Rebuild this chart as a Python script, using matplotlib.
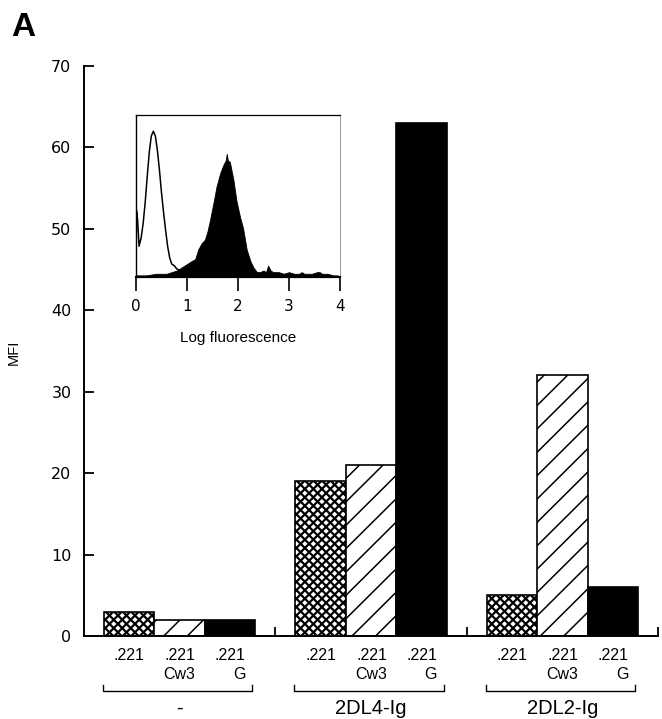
import numpy as np
import matplotlib
matplotlib.use("Agg")
import matplotlib.pyplot as plt
from matplotlib.collections import LineCollection
from matplotlib.transforms import blended_transform_factory

# --- data ---
groups = ["-", "2DL4-Ig", "2DL2-Ig"]
cells = [".221", ".221\nCw3", ".221\nG"]
mfi_221 = [3, 19, 5]
mfi_cw3 = [2, 21, 32]
mfi_g = [2, 63, 6]
y_ticks = [0, 10, 20, 30, 40, 50, 60, 70]

# inset histogram (percent of inset height)
open_x = [0, 0.01, 0.03, 0.06, 0.1, 0.14, 0.18, 0.22, 0.26, 0.3, 0.34, 0.38,
          0.42, 0.46, 0.5, 0.54, 0.58, 0.62, 0.66, 0.7, 0.75, 0.8, 0.86, 0.9]
open_y = [0, 41, 36, 19, 24, 33, 46, 62, 77, 87, 90, 87,
          78, 66, 52, 40, 29, 19, 12, 8, 7, 5, 4, 4]
fill_x = [0, 0.2, 0.4, 0.6, 0.7, 0.8, 0.9, 1.0, 1.1, 1.16, 1.22, 1.29, 1.35,
          1.40, 1.45, 1.52, 1.58, 1.65, 1.71, 1.76, 1.78, 1.8, 1.84, 1.91,
          1.97, 2.04, 2.10, 2.17, 2.24, 2.30, 2.37, 2.43, 2.5, 2.55, 2.59,
          2.64, 2.69, 2.8, 2.9, 3.0, 3.1, 3.2, 3.25, 3.3, 3.45, 3.55, 3.6,
          3.65, 3.75, 3.87, 3.95, 4.0]
fill_y = [1, 1, 2, 2, 3, 4, 6, 8, 10, 11, 17, 21, 23,
          28, 35, 46, 56, 64, 69, 72, 76, 72, 71, 60,
          47, 37, 30, 17, 10, 6, 3, 3, 4, 3, 7,
          4, 3, 3, 2, 3, 2, 2, 3, 2, 2, 3, 3,
          2, 2, 1, 1, 0]
inset_ticks = [0, 1, 2, 3, 4]

SANS = "Liberation Sans"
W = 0.264


def hatch(ax, patch, spacing, dirs, lw):
    # hand-drawn hatch lines, clipped to the bar
    segs = []
    for d in dirs:
        for c in np.arange(-1.0, 2.0, spacing):
            if d > 0:
                segs.append([(0, c), (1, c + 1)])
            else:
                segs.append([(0, c), (1, c - 1)])
    lc = LineCollection(segs, colors="black", linewidths=lw,
                        transform=ax.transAxes, zorder=2.2)
    ax.add_collection(lc, autolim=False)
    lc.set_clip_path(patch)


fig = plt.figure(figsize=(6.62, 7.19), dpi=100)
ax = fig.add_axes([84 / 662, 1 - 636 / 719, 574 / 662, 570 / 719])

x = np.arange(len(groups))
b1 = ax.bar(x - W, mfi_221, W, facecolor="white", edgecolor="black", lw=1.2, zorder=2)
b2 = ax.bar(x, mfi_cw3, W, facecolor="white", edgecolor="black", lw=1.2, zorder=2)
b3 = ax.bar(x + W, mfi_g, W, facecolor="black", edgecolor="black", lw=1.2, zorder=2)
ax.set_xlim(-0.5, 2.5)
ax.set_ylim(0, 70)
for p in b1:
    hatch(ax, p, 0.0148, (1, -1), 1.6)
for p in b2:
    hatch(ax, p, 0.041, (1,), 1.1)

for s in ("top", "right"):
    ax.spines[s].set_visible(False)
for s in ("left", "bottom"):
    ax.spines[s].set_linewidth(1.4)

ax.set_yticks(y_ticks)
ax.tick_params(axis="y", direction="in", length=7, width=1.3, pad=9,
               labelsize=11.5)
for t in ax.get_yticklabels():
    t.set_family("DejaVu Sans")

ax.set_xticks([0.5, 1.5, 2.5])
ax.set_xticklabels([])
ax.tick_params(axis="x", which="major", direction="in", length=6.5, width=1.3)
minor = np.concatenate([x - W, x, x + W])
ax.set_xticks(np.sort(minor), minor=True)
ax.set_xticklabels(cells * len(groups), minor=True)
ax.tick_params(axis="x", which="minor", length=0, pad=9, labelsize=11.5)
for t in ax.get_xticklabels(minor=True):
    t.set_family(SANS)
    t.set_multialignment("right")
    t.set_linespacing(1.3)

tr = blended_transform_factory(ax.transData, ax.transAxes)
for i, g in enumerate(groups):
    x0, x1 = i - 0.4, i + 0.38
    ax.plot([x0, x0, x1, x1], [-0.086, -0.097, -0.097, -0.086], color="black",
            lw=1.0, transform=tr, clip_on=False)
    ax.text(i, -0.127, g, transform=tr, ha="center", va="center",
            fontsize=14.5, family=SANS)

fig.text(14 / 662, 1 - 352 / 719, "MFI", rotation=90, ha="center", va="center",
         fontsize=10.5, family=SANS)
fig.text(11 / 662, 1 - 27 / 719, "A", ha="left", va="center", fontsize=24,
         fontweight="bold", family=SANS)

# inset
ins = fig.add_axes([136 / 662, 1 - 277 / 719, 204 / 662, 162 / 719])
ins.fill_between(fill_x, fill_y, color="black", lw=0.6, zorder=3)
ins.plot(open_x, open_y, color="black", lw=1.1, zorder=2)
ins.set_xlim(0, 4)
ins.set_ylim(0, 100)
ins.set_yticks([])
ins.set_xticks(inset_ticks)
ins.tick_params(axis="x", direction="out", length=10, width=1.2, pad=6,
                labelsize=11)
for t in ins.get_xticklabels():
    t.set_family("DejaVu Sans")
ins.spines["bottom"].set_linewidth(1.6)
ins.spines["left"].set_linewidth(1.0)
ins.spines["top"].set_linewidth(0.9)
ins.spines["right"].set_linewidth(0.7)
ins.spines["right"].set_color("#9a9a9a")
ins.set_xlabel("Log fluorescence", fontsize=11, family=SANS, labelpad=12)

fig.savefig("out.png", dpi=100)
